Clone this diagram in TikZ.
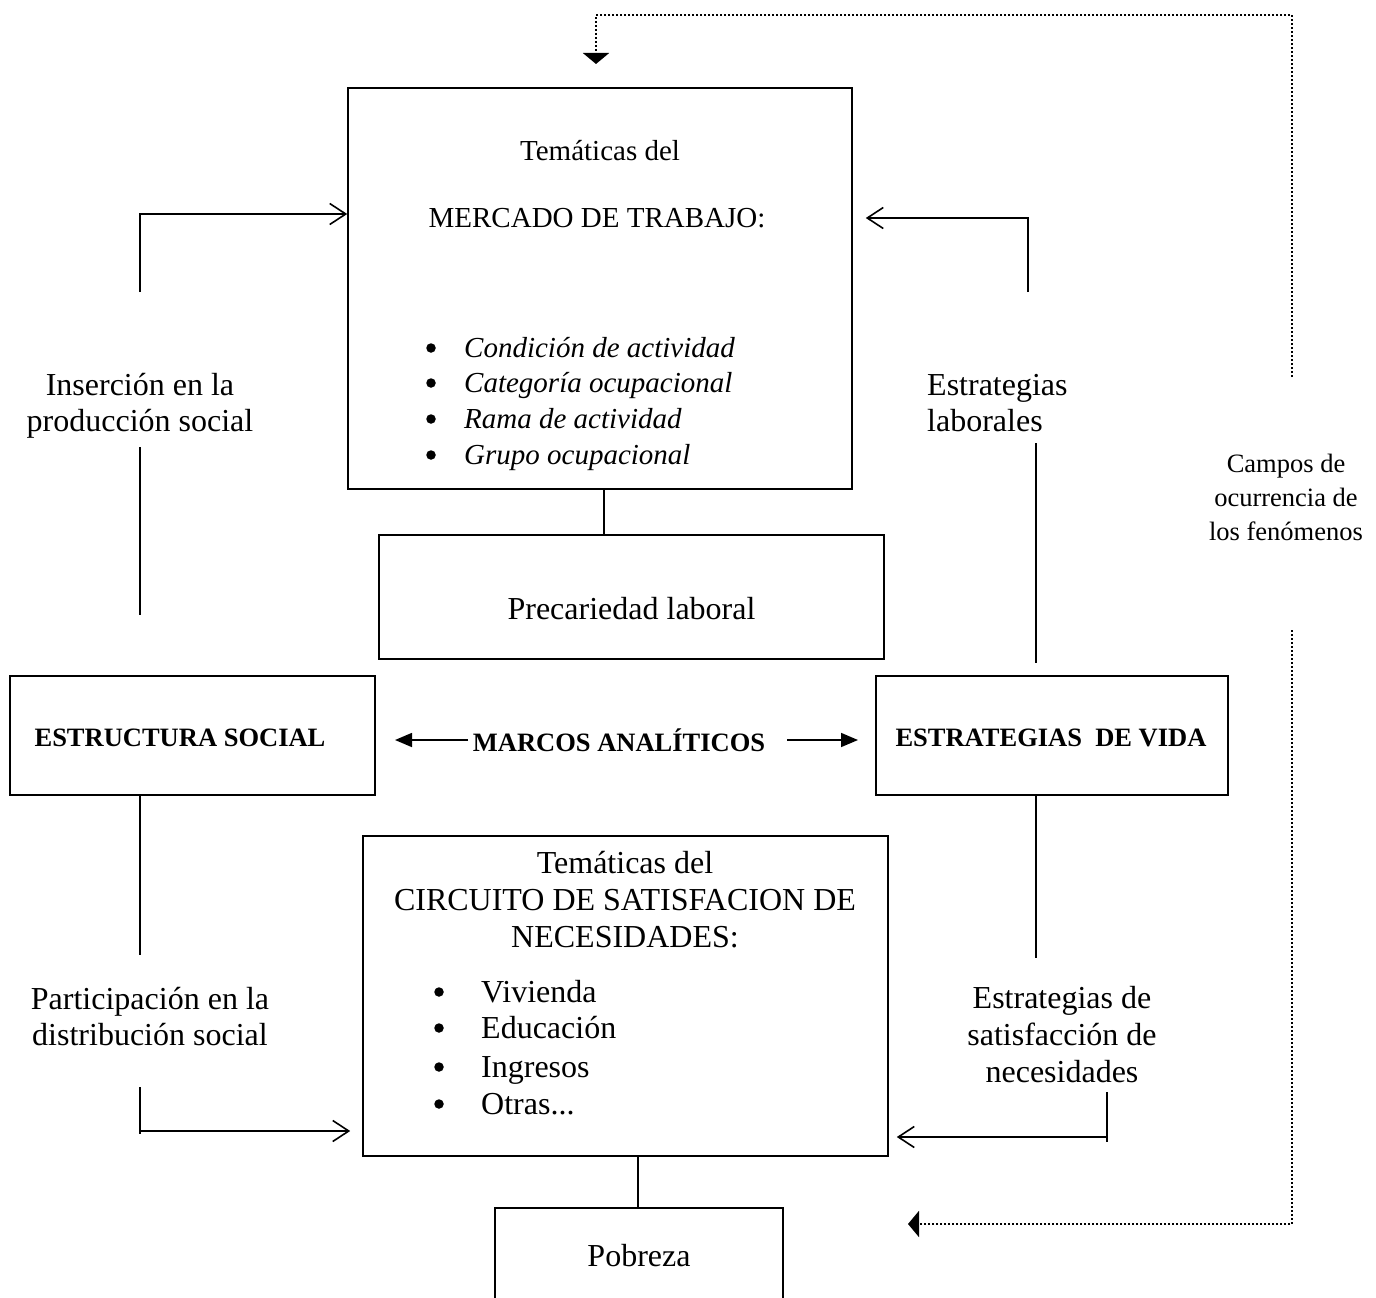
\documentclass[tikz,border=0pt]{standalone}
\usepackage{fontspec}
\setmainfont{Liberation Serif}
\usetikzlibrary{arrows.meta}
\begin{document}
\begin{tikzpicture}[x=1pt,y=-1pt,
  box/.style={draw, line width=1.6pt, inner sep=0pt},
  conn/.style={line width=1.6pt},
  oarr/.style={conn, -{Straight Barb[length=16pt,width=21pt,line width=1.6pt]}},
  farr/.style={line width=1.6pt, -{Triangle[length=17pt,width=14pt]}},
  dotl/.style={line width=2pt, dash pattern=on 2pt off 2pt},
  darr/.style={dotl, -{Triangle[length=11pt,width=26pt]}},
  bul/.style={circle, fill, inner sep=0pt, minimum size=9.5pt},
  t/.style={inner sep=0pt, anchor=base, font=\fontsize{32}{36}\selectfont},
  ts/.style={inner sep=0pt, anchor=base, font=\fontsize{29}{33}\selectfont},
  tsi/.style={ts, anchor=base west, font=\fontsize{29}{33}\selectfont\itshape},
  tl/.style={t, anchor=base west},
  tb/.style={inner sep=0pt, anchor=base, font=\fontsize{26.5}{30}\selectfont\bfseries},
  tc/.style={inner sep=0pt, anchor=base, font=\fontsize{26.5}{30}\selectfont},
]
\useasboundingbox (0,0) rectangle (1376,1298);

% boxes
\node[box, minimum width=504pt, minimum height=401pt] (merc) at (600,288.5) {};
\node[box, minimum width=505pt, minimum height=124pt] (prec) at (631.5,597) {};
\node[box, minimum width=365pt, minimum height=119pt] (estr) at (192.5,735.5) {};
\node[box, minimum width=352pt, minimum height=119pt] (vida) at (1052,735.5) {};
\node[box, minimum width=525pt, minimum height=320pt] (circ) at (625.5,996) {};
\node[box, minimum width=288pt, minimum height=114pt] (pob) at (639,1265) {};

% MERCADO box texts
\node[ts] (m1) at (600,160) {Temáticas del};
\node[ts] (m2) at (597,227) {MERCADO DE TRABAJO:};
\node[bul] (mb1) at (431,348) {};
\node[bul] (mb2) at (431,383) {};
\node[bul] (mb3) at (431,419) {};
\node[bul] (mb4) at (431,455) {};
\node[tsi] (mi1) at (464,357) {Condición de actividad};
\node[tsi] (mi2) at (464,392) {Categoría ocupacional};
\node[tsi] (mi3) at (464,428) {Rama de actividad};
\node[tsi] (mi4) at (464,464) {Grupo ocupacional};

% side labels top
\node[t] (ins1) at (140,395) {Inserción en la};
\node[t] (ins2) at (140,431) {producción social};
\node[tl] (lab1) at (927,395) {Estrategias};
\node[tl] (lab2) at (927,431) {laborales};
\node[tc] (cam1) at (1286,472) {Campos de};
\node[tc] (cam2) at (1286,506) {ocurrencia de};
\node[tc] (cam3) at (1286,540) {los fenómenos};

\node[t] (prect) at (631.5,619) {Precariedad laboral};

\node[tb] (estrt) at (180,746) {ESTRUCTURA SOCIAL};
\node[tb] (marcos) at (619,751) {MARCOS ANALÍTICOS};
\node[tb] (vidat) at (1051,746) {ESTRATEGIAS\ \ DE VIDA};

% CIRCUITO texts
\node[t] (c1) at (625,873) {Temáticas del};
\node[t] (c2) at (625,910) {CIRCUITO DE SATISFACION DE};
\node[t] (c3) at (625,947) {NECESIDADES:};
\node[bul] (cb1) at (439,992) {};
\node[bul] (cb2) at (439,1028) {};
\node[bul] (cb3) at (439,1067) {};
\node[bul] (cb4) at (439,1104) {};
\node[tl] (ci1) at (481,1002) {Vivienda};
\node[tl] (ci2) at (481,1038) {Educación};
\node[tl] (ci3) at (481,1077) {Ingresos};
\node[tl] (ci4) at (481,1114) {Otras...};

\node[t] (par1) at (150,1009) {Participación en la};
\node[t] (par2) at (150,1045) {distribución social};
\node[t] (sat1) at (1062,1008) {Estrategias de};
\node[t] (sat2) at (1062,1045) {satisfacción de};
\node[t] (sat3) at (1062,1082) {necesidades};

\node[t] (pobt) at (639,1266) {Pobreza};

% free ends
\coordinate (insTop) at (140,292);
\coordinate (insA) at (140,447);
\coordinate (insB) at (140,615);
\coordinate (labTop) at (1028,292);
\coordinate (labA) at (1036,443);
\coordinate (labB) at (1036,663);
\coordinate (parA) at (140,955);
\coordinate (parB) at (140,1087);
\coordinate (satA) at (1036,958);
\coordinate (satB) at (1107,1092);
\coordinate (satC) at (1107,1142);
\coordinate (mlA) at (468,740);
\coordinate (mlB) at (395,740);
\coordinate (mrA) at (787,740);
\coordinate (mrB) at (858,740);
\coordinate (dA) at (1292,377);
\coordinate (dB) at (596,64);
\coordinate (dC) at (1292,630);
\coordinate (dD) at (908,1224);

% connectors
\draw[oarr] (insTop) |- (merc.west |- 0,214);
\draw[oarr] (labTop) |- ([xshift=13pt]merc.east |- 0,218);
\draw[conn] (insA) -- (insB);
\draw[conn] (labA) -- (labB);
\draw[conn] (merc.south -| 604,0) -- (prec.north -| 604,0);
\draw[farr] (mlA) -- (mlB);
\draw[farr] (mrA) -- (mrB);
\draw[conn] (estr.south -| parA) -- (parA);
\draw[conn] (vida.south -| satA) -- (satA);
\draw[conn] (parB) -- (140,1134);
\draw[oarr] (140,1131) -- ([xshift=-12pt]circ.west |- 0,1131);
\draw[conn] (satB) -- (satC);
\draw[oarr] (1107,1137) -- ([xshift=8pt]circ.east |- 0,1137);
\draw[conn] (circ.south -| 638,0) -- (pob.north -| 638,0);
\draw[darr] (dA) -- (1292,15) -| (dB);
\draw[darr] (dC) |- (dD);
\end{tikzpicture}
\end{document}
